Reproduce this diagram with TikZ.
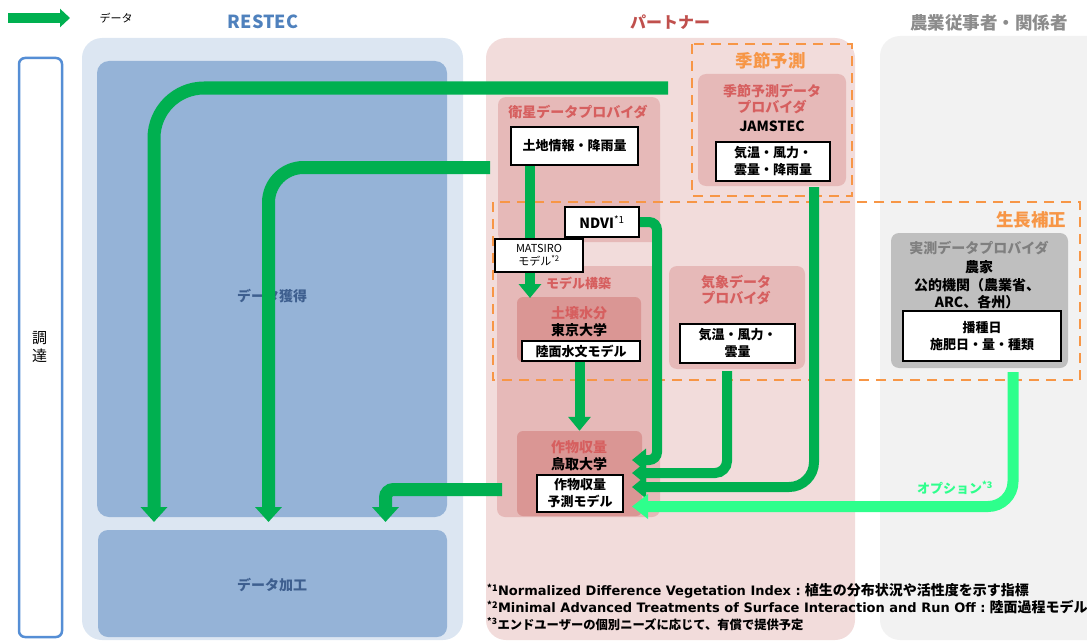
\documentclass[tikz,border=0pt]{standalone}
\usepackage{fontspec}
\setmainfont{Noto Sans CJK JP}
\newfontfamily\latinfont{DejaVu Sans}
\usetikzlibrary{arrows.meta,positioning}

\definecolor{flowgreen}{HTML}{00B050}
\definecolor{optgreen}{RGB}{46,255,140}
\definecolor{restecblue}{HTML}{4F81BD}
\definecolor{restecbg}{HTML}{DCE6F2}
\definecolor{restecfill}{HTML}{95B3D7}
\definecolor{restectext}{HTML}{3E5F8F}
\definecolor{frameblue}{HTML}{558ED5}
\definecolor{partnerred}{HTML}{C0504D}
\definecolor{partnerbg}{HTML}{F2DCDB}
\definecolor{provfill}{HTML}{E6B9B8}
\definecolor{labfill}{HTML}{DA9694}
\definecolor{provtext}{HTML}{D65F5F}
\definecolor{dashorange}{HTML}{F79646}
\definecolor{farmbg}{HTML}{F2F2F2}
\definecolor{farmfill}{HTML}{BFBFBF}
\definecolor{farmtext}{HTML}{7F7F7F}
\definecolor{farmtitle}{HTML}{8C8C8C}

\newcommand{\fsz}[2]{\fontsize{#1}{#2}\selectfont}

\begin{document}
\begin{tikzpicture}[x=1pt, y=-1pt,
  region/.style={inner sep=0pt, rounded corners=20pt},
  panel/.style={fill=provfill, inner sep=0pt, rounded corners=8pt},
  labpanel/.style={fill=labfill, inner sep=0pt, rounded corners=6pt},
  databox/.style={draw=black, line width=2.2pt, fill=white, inner sep=0pt,
                  align=center, font=\fsz{13}{17}\bfseries},
  dashbox/.style={draw=dashorange, line width=2.5pt, dash pattern=on 10pt off 7pt},
  provlabel/.style={font=\fsz{14}{16}\bfseries, text=provtext},
  orglabel/.style={font=\fsz{14}{16}\bfseries},
  coltitle/.style={font=\fsz{18}{20}\bfseries},
  footnote/.style={anchor=west, font=\bfseries, inner sep=0pt},
  legflow/.style={draw=flowgreen, line width=10pt, -{Triangle[length=10pt,width=18pt]}},
  flow/.style={draw=flowgreen, line width=10pt, -{Triangle[length=14pt,width=22pt]}},
  bigflow/.style={draw=flowgreen, line width=13pt, -{Triangle[length=15pt,width=26pt]}},
  optflow/.style={draw=optgreen, line width=11pt, -{Triangle[length=16pt,width=24pt]}},
]
  \useasboundingbox (0,0) rectangle (1087,642);
  \clip (0,0) rectangle (1087,642);

  % Legend
  \coordinate (legA) at (8,18);
  \coordinate (legB) at (70,18);
  \draw[legflow] (legA) -- (legB);
  \node[font=\fsz{11}{13}] (legtext) at (116,18) {データ};

  % Column titles
  \node[coltitle, text=restecblue] (restec) at (263,22) {RESTEC};
  \node[coltitle, font=\fsz{16}{18}\bfseries, text=partnerred] (partner) at (670,22) {パートナー};
  \node[coltitle, font=\fsz{17.5}{19}\bfseries, text=farmtitle] (farmers) at (989,23) {農業従事者・関係者};

  % 調達
  \node[draw=frameblue, line width=2.5pt, fill=white, rounded corners=6pt,
        minimum width=43pt, minimum height=579pt, inner sep=0pt] (chotatsu) at (40.5,347.5) {};
  \node[font=\fsz{15}{18}, align=center] (chotatsutxt) at (39.5,347) {調\\達};

  % RESTEC column
  \node[region, fill=restecbg, minimum width=381pt, minimum height=602pt] (restecbox) at (272.5,339) {};
  \node[inner sep=0pt, fill=restecfill, rounded corners=12pt,
        minimum width=350pt, minimum height=456pt] (acq) at (272,289) {};
  \node[inner sep=0pt, fill=restecfill, rounded corners=10pt,
        minimum width=349pt, minimum height=107pt] (proc) at (272.5,583.5) {};
  \node[font=\fsz{14}{16}\bfseries, text=restectext] (acqtxt) at (272,296) {データ獲得};
  \node[font=\fsz{14}{16}\bfseries, text=restectext] (proctxt) at (272,585) {データ加工};

  % Partner and farmer columns
  \node[region, fill=partnerbg, minimum width=369pt, minimum height=602pt] (partnerbox) at (670.5,339) {};
  \node[region, fill=farmbg, minimum width=227pt, minimum height=604pt] (farmbox) at (993.5,338) {};

  % Provider panels
  \node[panel, minimum width=162pt, minimum height=145pt] (satprov) at (579,169.5) {};
  \node[panel, minimum width=163pt, minimum height=251pt] (modelreg) at (578.5,391.5) {};
  \node[panel, minimum width=148pt, minimum height=112pt] (jamprov) at (772,130) {};
  \node[panel, minimum width=136pt, minimum height=103pt] (wxprov) at (737,317.5) {};
  \node[labpanel, minimum width=124pt, minimum height=65pt] (soil) at (579,329.5) {};
  \node[labpanel, minimum width=125pt, minimum height=85pt] (crop) at (579.5,473.5) {};
  \node[panel, fill=farmfill, minimum width=177pt, minimum height=135pt] (farmprov) at (979.5,300.5) {};

  % Dashed groups
  \draw[dashbox] (692,44) rectangle (852,196);
  \draw[dashbox] (493,202) rectangle (1080,380);
  \node[font=\fsz{17.5}{19}\bfseries, text=dashorange] (seasonlbl) at (770.5,61) {季節予測};
  \node[font=\fsz{17.5}{19}\bfseries, text=dashorange] (growlbl) at (1031,220) {生長補正};

  % Panel labels
  \node[provlabel] (satlbl) at (578,112) {衛星データプロバイダ};
  \node[provlabel] (jamlbl1) at (772,91) {季節予測データ};
  \node[provlabel] (jamlbl2) at (772,107) {プロバイダ};
  \node[orglabel] (jamorg) at (772,126) {JAMSTEC};
  \node[provlabel, font=\fsz{13}{15}\bfseries] (modellbl) at (578.5,283) {モデル構築};
  \node[provlabel] (soillbl) at (579,313) {土壌水分};
  \node[orglabel] (soilorg) at (579,330) {東京大学};
  \node[provlabel] (croplbl) at (579,447) {作物収量};
  \node[orglabel] (croporg) at (579,464) {鳥取大学};
  \node[provlabel] (wxlbl1) at (736,282) {気象データ};
  \node[provlabel] (wxlbl2) at (736,298) {プロバイダ};
  \node[provlabel, text=farmtext] (farmlbl) at (979,248) {実測データプロバイダ};
  \node[orglabel] (farmorg1) at (979,267) {農家};
  \node[orglabel] (farmorg2) at (977,285) {公的機関（農業省、};
  \node[orglabel] (farmorg3) at (977,302) {ARC、各州）};

  % Data boxes
  \node[databox, minimum width=127pt, minimum height=38pt] (land) at (574.5,146) {土地情報・降雨量};
  \node[databox, minimum width=114pt, minimum height=39pt] (jamdata) at (773,161.5) {気温・風力・\\雲量・降雨量};
  \node[databox, minimum width=74pt, minimum height=30pt, font=\fsz{14}{16}\bfseries] (ndvi) at (602,222) {NDVI\textsuperscript{\mdseries *1}};
  \node[databox, minimum width=118pt, minimum height=20pt] (lsm) at (581,351) {陸面水文モデル};
  \node[databox, minimum width=86pt, minimum height=37pt] (cropm) at (580,493.5) {作物収量\\予測モデル};
  \node[databox, minimum width=115pt, minimum height=39pt] (wxdata) at (737.5,343.5) {気温・風力・\\雲量};
  \node[databox, minimum width=158pt, minimum height=50pt] (sowing) at (982,336) {播種日\\施肥日・量・種類};

  % Flow end points
  \coordinate (s1) at (668,88);    \coordinate (e1) at (154,522);
  \coordinate (s2) at (490,167.5); \coordinate (e2) at (268.5,522);
  \coordinate (s3) at (502,489.5); \coordinate (e3) at (385.5,522);
  \coordinate (e4) at (530,298);
  \coordinate (k5) at (657,460);   \coordinate (e5) at (632,460);
  \coordinate (s6) at (727,371);   \coordinate (e6) at (632,473);
  \coordinate (s7) at (814,187);   \coordinate (e7) at (632,487);
  \coordinate (s8) at (1013,372);  \coordinate (e8) at (632,506.5);

  % Data flows into RESTEC
  \draw[bigflow, rounded corners=50pt] (s1) -| (e1);
  \draw[bigflow, rounded corners=35pt] (s2) -| (e2);
  \draw[bigflow, rounded corners=8pt] (s3) -| (e3);

  % Data flows inside partner
  \draw[flow] (land.south -| e4) -- (e4);
  \draw[flow] (lsm.south -| crop.north) -- (crop.north);
  \draw[flow, rounded corners=8pt] (ndvi.east) -| (k5) -- (e5);
  \draw[flow, rounded corners=12pt] (s6) |- (e6);
  \draw[flow, rounded corners=25pt] (s7) |- (e7);
  \draw[optflow, rounded corners=25pt] (s8) |- (e8);
  \node[font=\fsz{13}{15}\bfseries, text=optgreen] (optlbl) at (955,488) {オプション\textsuperscript{*3}};

  % MATSIRO sits over the land flow
  \node[databox, line width=1.6pt, minimum width=88pt, minimum height=33pt,
        font=\fsz{11}{13}] (matsiro) at (539,255.5) {MATSIRO\\モデル\textsuperscript{*2}};

  % Footnotes
  \node[footnote] (fn1) at (487,591)
    {\fsz{13}{14}\textsuperscript{*1}{\latinfont Normalized Difference Vegetation Index :}
     \fsz{14}{14}植生の分布状況や活性度を示す指標};
  \node[footnote] (fn2) at (487,607)
    {\fsz{13}{14}\textsuperscript{*2}{\latinfont Minimal Advanced Treatments of Surface Interaction and Run Off :}
     \fsz{14}{14}陸面過程モデル};
  \node[footnote] (fn3) at (487,624)
    {\fsz{12.3}{14}\textsuperscript{*3}エンドユーザーの個別ニーズに応じて、有償で提供予定};
\end{tikzpicture}
\end{document}
